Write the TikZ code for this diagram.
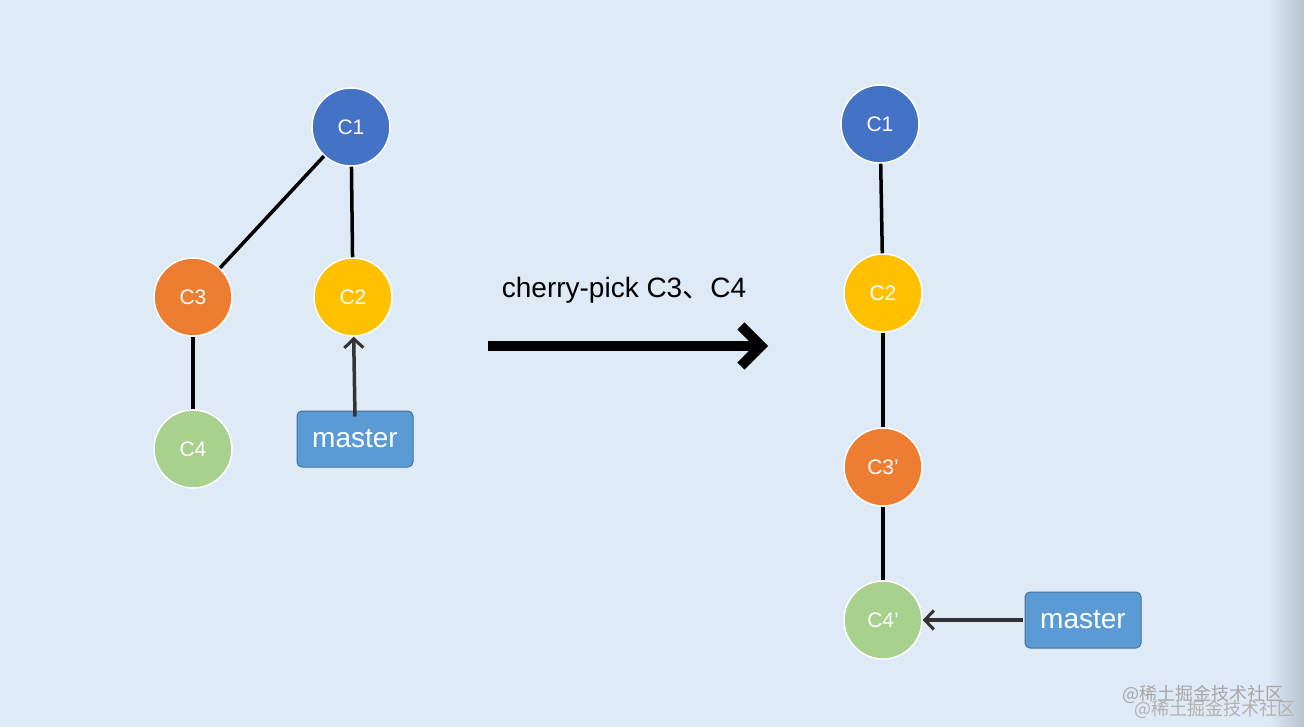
\documentclass[tikz,border=0pt]{standalone}
\usepackage{fontspec}
\setmainfont{Liberation Sans}
\newfontfamily\cjk{Noto Sans CJK SC}
\usetikzlibrary{arrows.meta}
\definecolor{bgc}{HTML}{DEEAF6}
\definecolor{cone}{HTML}{4472C4}
\definecolor{ctwo}{HTML}{FFC000}
\definecolor{cthree}{HTML}{ED7D31}
\definecolor{cfour}{HTML}{A9D18E}
\definecolor{mfill}{HTML}{5B9BD5}
\definecolor{mdraw}{HTML}{41719C}
\definecolor{edgec}{HTML}{B7C3CF}
\begin{document}
\begin{tikzpicture}[x=1pt,y=-1pt,
  commit/.style={circle,draw=white,line width=1.5pt,minimum size=78pt,inner sep=0pt,text=white,font=\fontsize{21}{21}\selectfont},
  branchbox/.style={rectangle,rounded corners=5pt,draw=mdraw,line width=1pt,fill=mfill,text=white,minimum width=116pt,minimum height=56pt,font=\fontsize{28}{28}\selectfont},
  link/.style={line width=3.5pt,black},
  ptr/.style={line width=3.5pt,draw=black!80,-{Straight Barb[length=9pt,width=19pt,line width=3pt]}}]
\fill[bgc] (0,0) rectangle (1304,727);
\shade[left color=bgc,right color=edgec] (1268,0) rectangle (1304,727);
\useasboundingbox (0,0) rectangle (1304,727);
% left graph
\node[commit,fill=cone] (a1) at (351,127) {C1};
\node[commit,fill=cthree] (a3) at (193,297) {C3};
\node[commit,fill=ctwo] (a2) at (353,297) {C2};
\node[commit,fill=cfour] (a4) at (193,449) {C4};
\node[branchbox] (am) at (355,439) {master};
\draw[link] (a1) -- (a3);
\draw[link] (a1) -- (a2);
\draw[link] (a3) -- (a4);
\draw[ptr] ([yshift=-6pt]am.north) -- (a2);
% middle
\node (lbl) at (624,290) {\fontsize{28}{28}\selectfont cherry-pick C3{\cjk 、}C4};
\coordinate (bs) at (488,346);
\coordinate (be) at (768,346);
\draw[line width=10pt,-{Straight Barb[length=20pt,width=40pt,line width=10pt]}] (bs) -- (be);
% right graph
\node[commit,fill=cone] (b1) at (880,124) {C1};
\node[commit,fill=ctwo] (b2) at (883,293) {C2};
\node[commit,fill=cthree] (b3) at (883,467) {C3\char39};
\node[commit,fill=cfour] (b4) at (883,620) {C4\char39};
\node[branchbox] (bm) at (1083,620) {master};
\draw[link] (b1) -- (b2);
\draw[link] (b2) -- (b3);
\draw[link] (b3) -- (b4);
\draw[ptr] ([xshift=-2pt]bm.west) -- (b4);
% watermark
\node[text=black!35,font=\cjk\fontsize{18}{18}\selectfont] (wm1) at (1203,694) {@稀土掘金技术社区};
\node[text=black!30,font=\cjk\fontsize{18}{18}\selectfont] (wm2) at (1215,709) {@稀土掘金技术社区};
\end{tikzpicture}
\end{document}
